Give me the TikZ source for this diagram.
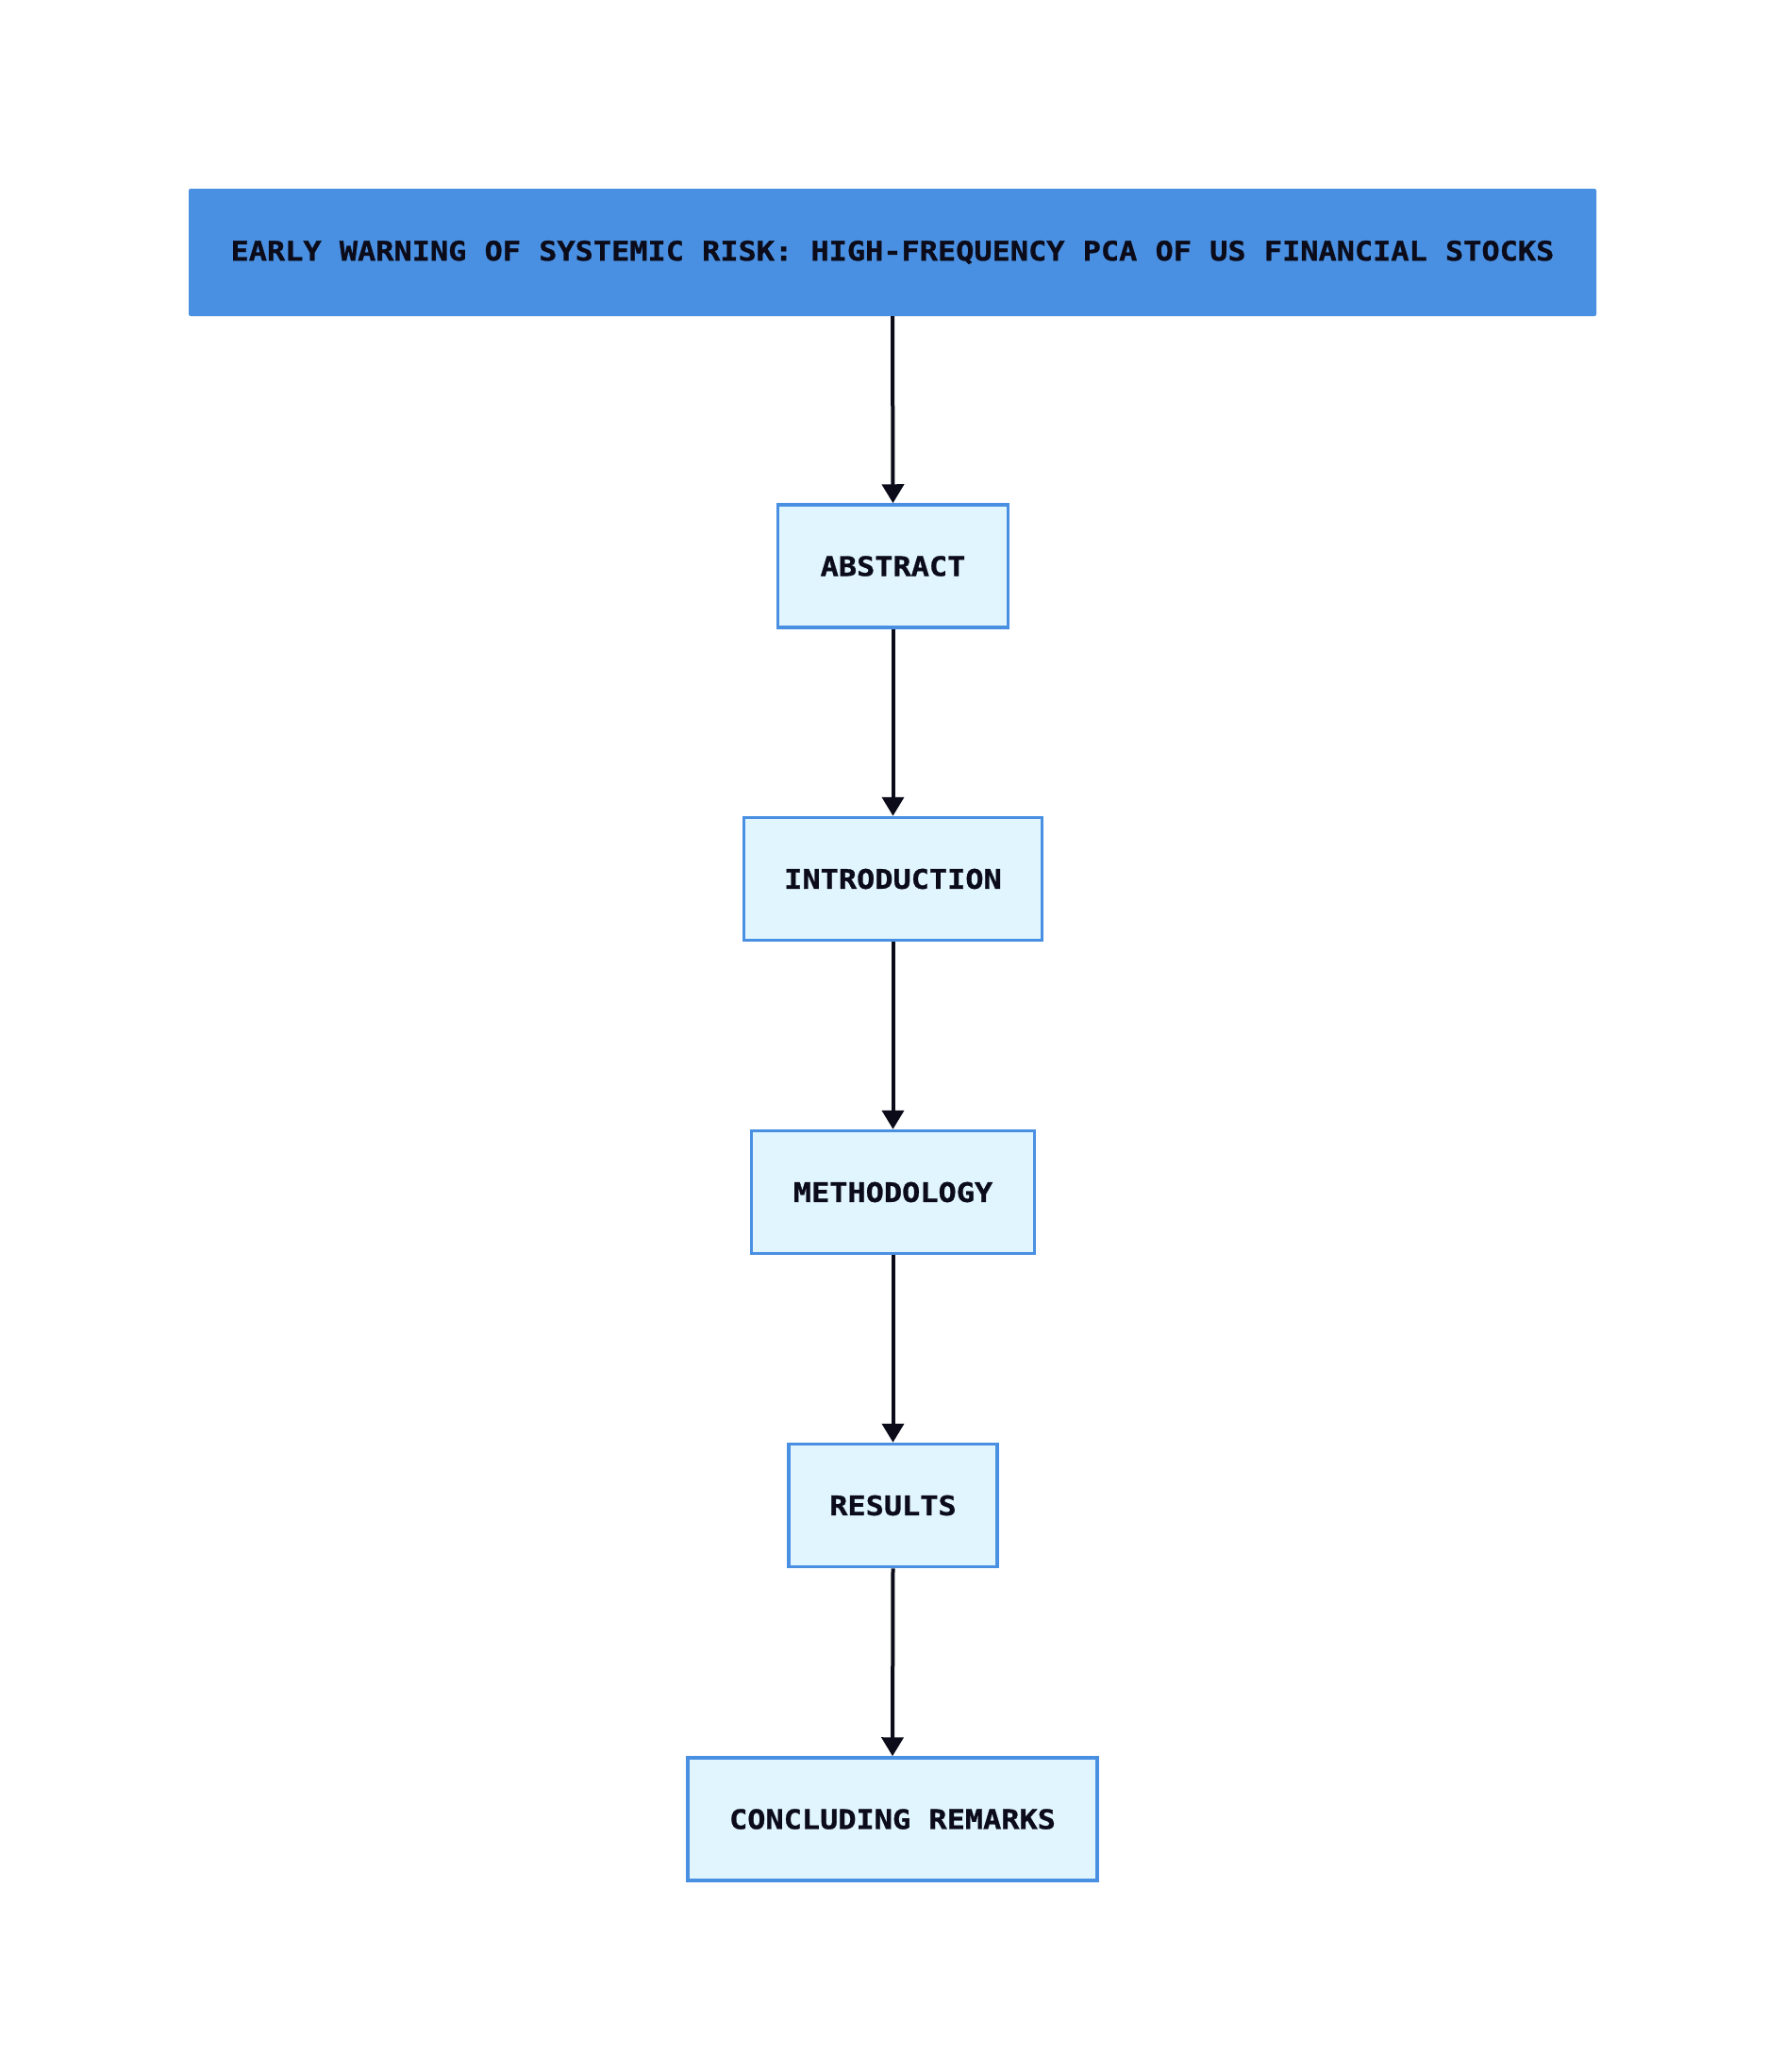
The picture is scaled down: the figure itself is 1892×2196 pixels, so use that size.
\documentclass[tikz,border=0pt]{standalone}
\usepackage{fontspec}
\setmonofont{DejaVu Sans Mono}[FakeStretch=1.12,BoldFeatures={FakeBold=1}]
\usetikzlibrary{arrows.meta}
\definecolor{titleblue}{HTML}{4A90E2}
\definecolor{boxfill}{HTML}{E1F5FE}
\definecolor{ink}{HTML}{0B0B1A}
\tikzset{
  x=1pt,y=-1pt,
  titlebox/.style={draw=none,fill=titleblue,rounded corners=2pt,minimum width=1492pt,minimum height=135pt,inner sep=0pt,font=\ttfamily\bfseries\fontsize{28.5}{28.5}\selectfont,text=ink},
  secbox/.style={draw=titleblue,line width=3.5pt,fill=boxfill,minimum height=130pt,inner sep=0pt,font=\ttfamily\bfseries\fontsize{28.5}{28.5}\selectfont,text=ink},
  flow/.style={draw=ink,line width=4pt,-{Triangle[width=23pt,length=20pt]}}
}
\begin{document}
\begin{tikzpicture}
\useasboundingbox (0,0) rectangle (1892,2196);
\node[titlebox] (t) at (946,267.5) {\raisebox{-3.5pt}{EARLY WARNING OF SYSTEMIC RISK: HIGH-FREQUENCY PCA OF US FINANCIAL STOCKS}};
\node[secbox,minimum width=244pt] (a) at (946.5,600) {ABSTRACT};
\node[secbox,minimum width=316pt] (i) at (946.5,931.5) {INTRODUCTION};
\node[secbox,minimum width=300pt] (m) at (946.5,1263.5) {METHODOLOGY};
\node[secbox,minimum width=221pt] (r) at (946.5,1595.5) {RESULTS};
\node[secbox,minimum width=434pt] (c) at (946,1928) {CONCLUDING REMARKS};
\draw[flow] (t.south) -- (a.north);
\draw[flow] (a.south) -- (i.north);
\draw[flow] (i.south) -- (m.north);
\draw[flow] (m.south) -- (r.north);
\draw[flow] (r.south) -- (c.north);
\end{tikzpicture}
\end{document}
